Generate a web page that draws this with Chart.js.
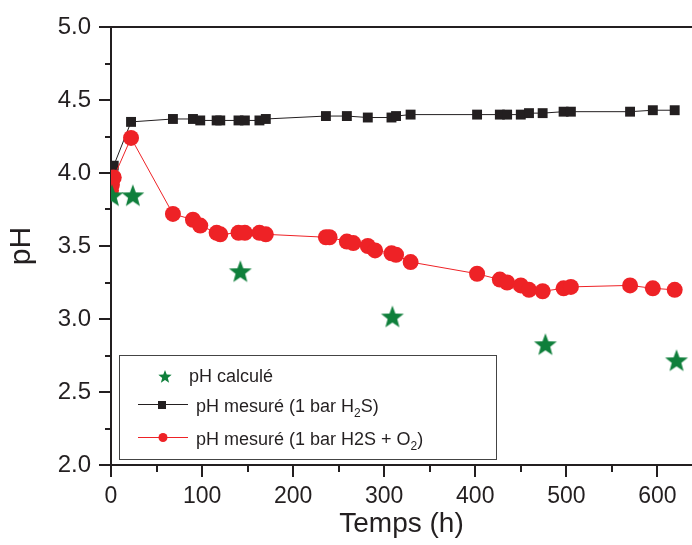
<!DOCTYPE html>
<html>
<head>
<meta charset="utf-8">
<script src="https://cdn.jsdelivr.net/npm/chart.js@4.4.0/dist/chart.umd.min.js"></script>
<style>
  html, body { margin: 0; padding: 0; background: #fff; }
  #c { display: block; }
</style>
</head>
<body>
<canvas id="c" width="692" height="545"></canvas>
<script>
/* ---------- data ---------- */
const starX = [1, 24, 142, 309, 477, 621];
const starY = [3.84, 3.84, 3.32, 3.01, 2.82, 2.71];

const h2sX = [3, 22, 68, 90, 98, 116, 120, 140, 147, 163, 170, 236, 259, 282, 308, 313, 329, 402, 427, 435, 450, 459, 474, 497, 505, 570, 595, 619];
const h2sY = [4.05, 4.35, 4.37, 4.37, 4.36, 4.36, 4.36, 4.36, 4.36, 4.36, 4.37, 4.39, 4.39, 4.38, 4.38, 4.39, 4.40, 4.40, 4.40, 4.40, 4.40, 4.41, 4.41, 4.42, 4.42, 4.42, 4.43, 4.43];

const o2X = [0, 1, 3, 22, 68, 90, 98, 116, 120, 140, 147, 163, 170, 236, 240, 259, 266, 282, 290, 308, 313, 329, 402, 427, 435, 450, 459, 474, 497, 505, 570, 595, 619];
const o2Y = [3.88, 3.92, 3.97, 4.24, 3.72, 3.68, 3.64, 3.59, 3.58, 3.59, 3.59, 3.59, 3.58, 3.56, 3.56, 3.53, 3.52, 3.50, 3.47, 3.45, 3.44, 3.39, 3.31, 3.27, 3.25, 3.23, 3.20, 3.19, 3.21, 3.22, 3.23, 3.21, 3.20];

const xTicks = [0, 100, 200, 300, 400, 500, 600];
const yTicks = [2.0, 2.5, 3.0, 3.5, 4.0, 4.5, 5.0];

const INK = '#231f20';
const GREEN = '#0f7f3b';
const RED = '#ee2226';
const FONT = "'Liberation Sans', Arial, sans-serif";

const pts = (xs, ys) => xs.map((x, i) => ({ x: x, y: ys[i] }));

/* filled five-point star, used as point image */
function starImage(r) {
  const c = document.createElement('canvas');
  const s = Math.ceil(r * 2 + 2);
  c.width = s; c.height = s;
  const g = c.getContext('2d');
  g.fillStyle = GREEN;
  g.beginPath();
  for (let i = 0; i < 10; i++) {
    const rad = i % 2 ? r * 0.42 : r;
    const a = -Math.PI / 2 + i * Math.PI / 5;
    const px = s / 2 + rad * Math.cos(a), py = s / 2 + rad * Math.sin(a);
    i ? g.lineTo(px, py) : g.moveTo(px, py);
  }
  g.closePath(); g.fill();
  return c;
}
const bigStar = starImage(12);
const smallStar = starImage(7);

/* ---------- legend inside the plot + minor ticks + top frame ---------- */
function drawRich(ctx, x, y, parts) {
  parts.forEach(p => {
    ctx.font = p[1] ? '12px ' + FONT : '18px ' + FONT;
    ctx.fillText(p[0], x, p[1] ? y + 5 : y);
    x += ctx.measureText(p[0]).width;
  });
}

const extras = {
  id: 'extras',
  afterDraw(chart) {
    const ctx = chart.ctx, a = chart.chartArea;
    const xs = chart.scales.x, ys = chart.scales.y;
    ctx.save();
    ctx.strokeStyle = INK;
    ctx.lineWidth = 2;
    // top frame
    ctx.beginPath(); ctx.moveTo(a.left, a.top); ctx.lineTo(a.right, a.top); ctx.stroke();
    // minor ticks
    ctx.beginPath();
    for (let v = 2.25; v < 5; v += 0.5) {
      const py = Math.round(ys.getPixelForValue(v));
      ctx.moveTo(a.left - 6, py); ctx.lineTo(a.left, py);
    }
    for (let v = 50; v < xs.max; v += 100) {
      const px = Math.round(xs.getPixelForValue(v));
      ctx.moveTo(px, a.bottom); ctx.lineTo(px, a.bottom + 7);
    }
    ctx.stroke();

    // legend box
    ctx.lineWidth = 1;
    ctx.strokeStyle = '#444';
    ctx.strokeRect(119.5, 355.5, 377, 104);
    ctx.fillStyle = INK;
    ctx.textBaseline = 'alphabetic';
    ctx.drawImage(smallStar, 165 - smallStar.width / 2, 377 - smallStar.height / 2);
    drawRich(ctx, 189, 382, [['pH calculé', 0]]);

    ctx.strokeStyle = INK; ctx.lineWidth = 1;
    ctx.beginPath(); ctx.moveTo(138, 404.5); ctx.lineTo(188, 404.5); ctx.stroke();
    ctx.fillRect(158, 401, 8, 8);
    drawRich(ctx, 196, 412, [['pH mesuré (1 bar H', 0], ['2', 1], ['S)', 0]]);

    ctx.strokeStyle = RED;
    ctx.beginPath(); ctx.moveTo(138, 437.5); ctx.lineTo(188, 437.5); ctx.stroke();
    ctx.fillStyle = RED;
    ctx.beginPath(); ctx.arc(163, 437.5, 4.5, 0, Math.PI * 2); ctx.fill();
    ctx.fillStyle = INK;
    drawRich(ctx, 196, 445, [['pH mesuré (1 bar H2S + O', 0], ['2', 1], [')', 0]]);
    ctx.restore();
  }
};

/* ---------- chart ---------- */
new Chart(document.getElementById('c'), {
  type: 'scatter',
  data: {
    datasets: [
      {
        label: 'pH calculé',
        data: pts(starX, starY),
        pointStyle: bigStar,
        showLine: false,
        order: 0
      },
      {
        label: 'pH mesuré (1 bar H₂S + O₂)',
        data: pts(o2X, o2Y),
        showLine: true,
        borderColor: RED,
        borderWidth: 1,
        backgroundColor: RED,
        pointStyle: 'circle',
        pointRadius: 8,
        pointBorderWidth: 0,
        order: 1
      },
      {
        label: 'pH mesuré (1 bar H₂S)',
        data: pts(h2sX, h2sY),
        showLine: true,
        borderColor: INK,
        borderWidth: 1,
        backgroundColor: INK,
        pointStyle: 'rect',
        pointRadius: 7,
        pointBorderWidth: 0,
        order: 2
      }
    ]
  },
  options: {
    responsive: false,
    animation: false,
    devicePixelRatio: 1,
    layout: { autoPadding: false, padding: { top: 27, left: 0, right: 0, bottom: 0 } },
    plugins: { legend: { display: false }, tooltip: { enabled: false } },
    scales: {
      x: {
        type: 'linear',
        min: 0,
        max: 638,
        afterFit: s => { s.height = 80; s.paddingLeft = 0; s.paddingRight = 0; },
        afterBuildTicks: s => { s.ticks = xTicks.map(v => ({ value: v })); },
        ticks: { color: INK, font: { family: FONT, size: 23 }, padding: 6, maxRotation: 0 },
        grid: { drawOnChartArea: false, tickLength: 12, color: INK, lineWidth: 2 },
        border: { color: INK, width: 2 },
        title: { display: true, text: 'Temps (h)', color: INK, font: { family: FONT, size: 28 }, padding: { top: 3 } }
      },
      y: {
        min: 2,
        max: 5,
        afterFit: s => { s.width = 111; },
        afterBuildTicks: s => { s.ticks = yTicks.map(v => ({ value: v })); },
        ticks: { color: INK, font: { family: FONT, size: 24 }, padding: 8, callback: v => v.toFixed(1) },
        grid: { drawOnChartArea: false, tickLength: 12, color: INK, lineWidth: 2 },
        border: { color: INK, width: 2 },
        title: { display: true, text: 'pH', color: INK, font: { family: FONT, size: 30 }, padding: { bottom: 2 } }
      }
    }
  },
  plugins: [extras]
});
</script>
</body>
</html>
